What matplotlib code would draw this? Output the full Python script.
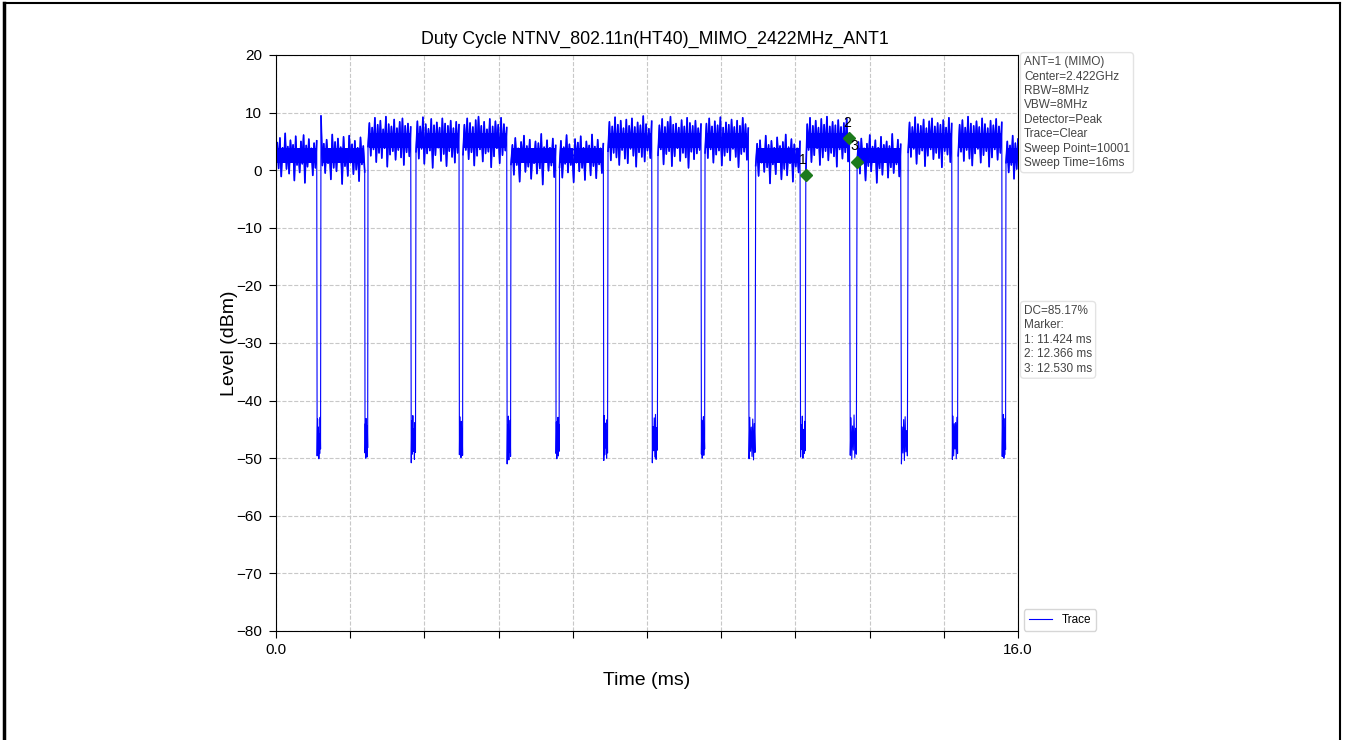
import matplotlib
matplotlib.use("Agg")
import matplotlib.pyplot as plt
from matplotlib.lines import Line2D
import numpy as np

plt.rcParams['font.family'] = ['Liberation Sans', 'DejaVu Sans']

# Burst (TX on) windows in ms
burst_start = [0.0, 0.970, 1.984, 3.019, 4.032, 5.067, 6.113, 7.159, 8.237,
               9.251, 10.344, 11.424, 12.530, 13.630, 14.710, 15.740]
burst_end = [0.878, 1.913, 2.905, 3.946, 4.975, 6.031, 7.058, 8.101, 9.164,
             10.184, 11.299, 12.366, 13.470, 14.570, 15.650, 16.0]

# dense part of the noise band in each burst (dBm)
core_low = [1.2, 1.2, 3.8, 3.8, 3.8, 1.2, 1.2, 3.8, 3.8, 3.8, 1.2, 3.8, 1.2, 3.8, 3.8, 1.2]
core_high = [3.8, 3.8, 6.5, 6.5, 6.5, 3.8, 3.8, 6.5, 6.5, 6.5, 3.8, 6.5, 3.8, 6.5, 6.5, 3.8]

# Level samples inside each burst (dBm)
burst_values = [
    [1.2, 4.8, 0.3, 5.6, -1.1, 3.9, 1.5, 6.4, 0.2, 4.1, -0.6, 5.2, 1.8, 4.4, -1.8, 5.9,
     0.9, 3.6, -0.4, 5.0, 1.1, 6.1, -2.2, 4.3, 0.6, 5.4, 1.4, 3.8, -0.9, 4.7, 0.4, 5.1],
    [9.4, 0.8, 4.6, -0.5, 5.3, 1.2, 3.7, -1.6, 6.2, 0.4, 4.9, -0.2, 5.5, 1.6, 4.0, -2.4,
     5.8, 0.7, 3.5, -1.0, 6.0, 1.3, 4.5, -0.7, 5.1, 0.1, 3.9, -1.9, 5.7, 1.0, 4.2, -0.3],
    [4.1, 8.2, 2.5, 7.4, 3.6, 9.1, 1.4, 7.9, 3.0, 8.6, 2.1, 7.1, 3.8, 9.3, 0.6, 8.0,
     2.7, 7.6, 3.3, 8.8, 1.8, 7.3, 3.5, 8.4, 2.2, 9.0, 0.9, 7.7, 3.1, 8.1, 2.4, 7.5],
    [3.2, 8.5, 2.0, 7.6, 3.7, 9.2, 1.1, 8.0, 2.9, 7.2, 3.4, 8.9, 0.4, 7.8, 2.6, 8.3,
     3.9, 7.4, 1.6, 9.0, 2.8, 8.1, 0.7, 7.7, 3.3, 8.6, 2.3, 7.3, 1.3, 8.4, 3.0, 7.9],
    [2.7, 7.9, 3.5, 9.0, 1.9, 8.2, 3.1, 7.5, 0.8, 8.7, 2.5, 9.3, 3.6, 7.7, 1.5, 8.4,
     2.9, 7.1, 3.2, 8.9, 0.5, 7.6, 2.4, 8.5, 3.8, 7.9, 1.2, 9.1, 2.6, 8.0, 3.4, 7.4],
    [1.0, 4.4, -0.8, 5.6, 0.9, 3.8, -2.0, 4.9, 1.5, 6.0, -0.3, 4.2, 0.6, 5.3, -1.5, 3.6,
     1.2, 5.0, -0.6, 4.7, 0.3, 6.3, -2.5, 4.0, 1.4, 5.2, -0.1, 3.9, 0.8, 5.5, -1.2, 4.3],
    [0.5, 5.1, -1.3, 4.0, 1.1, 6.1, -0.4, 4.5, 0.9, 3.7, -2.1, 5.4, 1.3, 4.8, -0.2, 5.9,
     0.4, 3.9, -1.7, 5.0, 1.6, 4.3, -0.9, 6.2, 0.7, 4.1, -1.4, 5.3, 1.0, 3.8, -0.5, 4.6],
    [3.3, 8.4, 1.7, 7.6, 3.0, 9.2, 2.2, 7.9, 0.9, 8.6, 3.5, 7.3, 2.0, 8.8, 1.2, 7.7,
     3.7, 9.0, 2.5, 7.5, 0.6, 8.3, 3.1, 7.8, 2.3, 9.4, 1.5, 8.0, 3.4, 7.2, 2.1, 8.5],
    [2.6, 7.8, 3.6, 8.9, 1.0, 7.5, 2.8, 8.4, 3.3, 9.3, 0.7, 7.9, 2.4, 8.1, 3.8, 7.4,
     1.6, 8.7, 3.0, 7.6, 2.2, 9.1, 0.4, 8.2, 3.2, 7.7, 1.9, 8.6, 2.9, 7.3, 3.5, 8.0],
    [3.0, 8.1, 2.1, 9.0, 3.6, 7.6, 1.3, 8.5, 2.7, 7.8, 3.4, 9.2, 0.8, 7.4, 2.5, 8.3,
     3.1, 7.9, 1.7, 8.8, 3.7, 7.5, 2.3, 8.6, 0.5, 7.7, 2.8, 9.1, 3.2, 8.0, 1.8, 7.3],
    [0.8, 4.6, -1.0, 5.2, 1.3, 3.7, -0.3, 6.0, 0.5, 4.4, -2.3, 5.1, 1.0, 3.9, -0.7, 5.7,
     1.5, 4.2, -1.6, 4.9, 0.2, 6.2, -0.9, 4.0, 1.2, 5.4, -2.0, 4.5, 0.6, 3.8, -0.4, 5.0],
    [-0.8, 8.0, 3.5, 9.1, 1.4, 7.7, 2.6, 8.6, 3.8, 7.4, 0.9, 8.9, 2.2, 7.9, 3.3, 9.3,
     1.7, 7.6, 3.0, 8.4, 2.4, 7.8, 0.6, 8.7, 3.6, 7.5, 2.0, 8.2, 3.1, 9.0, 1.5, 5.6],
    [1.5, 4.9, -0.6, 5.5, 1.1, 3.8, -1.8, 4.6, 0.7, 6.1, -0.2, 4.1, 1.4, 5.2, -2.2, 3.9,
     0.3, 5.8, -0.8, 4.4, 1.6, 5.0, -1.3, 4.2, 0.5, 6.3, -0.5, 3.7, 1.0, 5.3, -1.1, 4.5],
    [3.1, 8.3, 2.3, 7.5, 3.7, 9.2, 1.1, 8.0, 2.8, 7.7, 3.4, 8.8, 0.7, 7.3, 2.5, 8.5,
     3.6, 9.0, 1.9, 7.6, 3.0, 8.2, 2.1, 7.9, 0.5, 8.7, 3.3, 7.4, 2.7, 9.1, 1.4, 8.1],
    [2.5, 7.9, 3.2, 8.7, 1.6, 7.4, 3.5, 9.3, 2.0, 8.1, 0.8, 7.7, 2.9, 8.5, 3.7, 7.5,
     1.3, 9.0, 2.6, 8.0, 3.3, 7.3, 0.6, 8.6, 2.2, 7.8, 3.6, 8.9, 1.8, 7.6, 3.0, 8.3],
    [1.3, 5.0, -0.4, 4.3, 0.9, 6.0, -1.5, 4.7, 0.2, 5.4],
]

# Noise floor samples in each off gap (dBm)
gap_values = [
    [-49.6, -43.2, -48.9, -44.6, -50.1, -45.8, -49.2, -42.9, -48.4],
    [-49.1, -44.0, -50.0, -43.1, -48.7, -45.2, -49.8, -44.4, -48.2],
    [-50.8, -43.5, -49.3, -42.6, -48.8, -44.9, -50.2, -43.8, -49.0],
    [-49.4, -42.8, -48.6, -44.2, -49.9, -43.6, -48.3, -45.0, -49.5],
    [-51.0, -44.3, -49.0, -42.7, -50.3, -45.4, -48.9, -43.4, -49.7],
    [-49.2, -43.7, -50.1, -44.8, -48.5, -42.9, -49.6, -44.1, -48.8],
    [-50.4, -42.6, -49.4, -43.9, -48.2, -45.1, -50.0, -43.3, -49.1],
    [-50.8, -44.5, -48.7, -43.0, -49.8, -42.4, -50.2, -44.7, -48.6],
    [-49.3, -43.4, -50.0, -44.1, -48.9, -42.8, -49.5, -45.3, -48.4],
    [-50.1, -42.9, -48.8, -44.6, -49.7, -43.2, -50.3, -44.0, -49.0],
    [-49.8, -44.2, -48.5, -42.7, -50.0, -45.0, -49.2, -43.6, -48.7],
    [-49.5, -43.0, -50.2, -44.4, -48.6, -42.5, -49.9, -44.8, -49.3],
    [-51.0, -44.6, -49.1, -43.3, -50.4, -42.8, -48.9, -45.2, -49.6],
    [-50.2, -42.7, -49.6, -44.0, -48.4, -43.8, -50.1, -42.9, -49.2],
    [-49.7, -43.5, -48.8, -42.4, -50.0, -44.7, -49.4, -43.1, -48.5],
]

# Marker readout
marker_t = [11.424, 12.366, 12.530]
marker_level = [-0.8, 5.6, 1.5]
marker_names = ['1', '2', '3']

info_text = ("ANT=1 (MIMO)\nCenter=2.422GHz\nRBW=8MHz\nVBW=8MHz\nDetector=Peak\n"
             "Trace=Clear\nSweep Point=10001\nSweep Time=16ms")
dc_text = "DC=85.17%\nMarker:\n1: 11.424 ms\n2: 12.366 ms\n3: 12.530 ms"

trace_color = '#0000ff'

# Build the sweep from bursts and gaps
t_all = []
v_all = []
for i in range(len(burst_values)):
    vals = burst_values[i]
    t_all.extend(np.linspace(burst_start[i], burst_end[i], len(vals)))
    v_all.extend(vals)
    if i < len(gap_values):
        g = gap_values[i]
        tg = np.linspace(burst_end[i], burst_start[i + 1], len(g) + 2)[1:-1]
        t_all.extend(tg)
        v_all.extend(g)

fig = plt.figure(figsize=(13.45, 7.4), dpi=100)
ax = fig.add_axes([0.2052, 0.1473, 0.5517, 0.7784])

# thin full sweep (edges + noise floor), heavier strokes on the bursts
ax.plot(t_all, v_all, color=trace_color, linewidth=0.8, label='Trace')
for i in range(len(burst_start)):
    ax.fill_between([burst_start[i] + 0.02, burst_end[i] - 0.02], core_low[i], core_high[i],
                    color=trace_color, linewidth=0)
    ax.plot(np.linspace(burst_start[i], burst_end[i], len(burst_values[i])), burst_values[i],
            color=trace_color, linewidth=1.2)
ax.plot(marker_t, marker_level, linestyle='none', marker='D', markersize=6,
        color='#1c7a1c')
for t, lv, name in zip(marker_t, marker_level, marker_names):
    ax.annotate(name, (t, lv), xytext=(-2, 11), textcoords='offset points',
                ha='center', va='center', fontsize=10)

ax.set_xlim(0, 16)
ax.set_ylim(-80, 20)
xt = np.arange(11) * 1.6
ax.set_xticks(xt)
ax.set_xticklabels(['0.0'] + [''] * 9 + ['16.0'], fontsize=11)
ax.set_yticks(np.arange(-80, 21, 10))
ax.tick_params(axis='y', labelsize=11)
ax.tick_params(direction='out', length=5, pad=5)
ax.tick_params(axis='x', pad=3.5)
ax.grid(True, linestyle='--', color='#c8c8c8', linewidth=0.8)

ax.set_title("Duty Cycle NTNV_802.11n(HT40)_MIMO_2422MHz_ANT1", fontsize=12.8, pad=8, x=0.51)
ax.set_xlabel("Time (ms)", fontsize=14, labelpad=11)
ax.set_ylabel("Level (dBm)", fontsize=14, labelpad=-1)

box = dict(boxstyle='round,pad=0.3', facecolor='white', edgecolor='#dddddd', alpha=0.8)
ax.text(1.008, 0.998, info_text, transform=ax.transAxes, va='top', ha='left',
        fontsize=8.5, color='#444444', linespacing=1.27, bbox=box)
ax.text(1.008, 0.566, dc_text, transform=ax.transAxes, va='top', ha='left',
        fontsize=8.5, color='#444444', linespacing=1.27, bbox=box)
leg = ax.legend(loc='lower left', bbox_to_anchor=(1.0, -0.01), fontsize=8.5, frameon=True)

# page frame around the figure
fig.add_artist(Line2D([0.003, 0.003], [0.0, 0.996], color='black', linewidth=2.5))
fig.add_artist(Line2D([0.996, 0.996], [0.0, 0.996], color='black', linewidth=1.5))
fig.add_artist(Line2D([0.003, 0.996], [0.996, 0.996], color='black', linewidth=1.5))

fig.savefig("out.png", dpi=100)
